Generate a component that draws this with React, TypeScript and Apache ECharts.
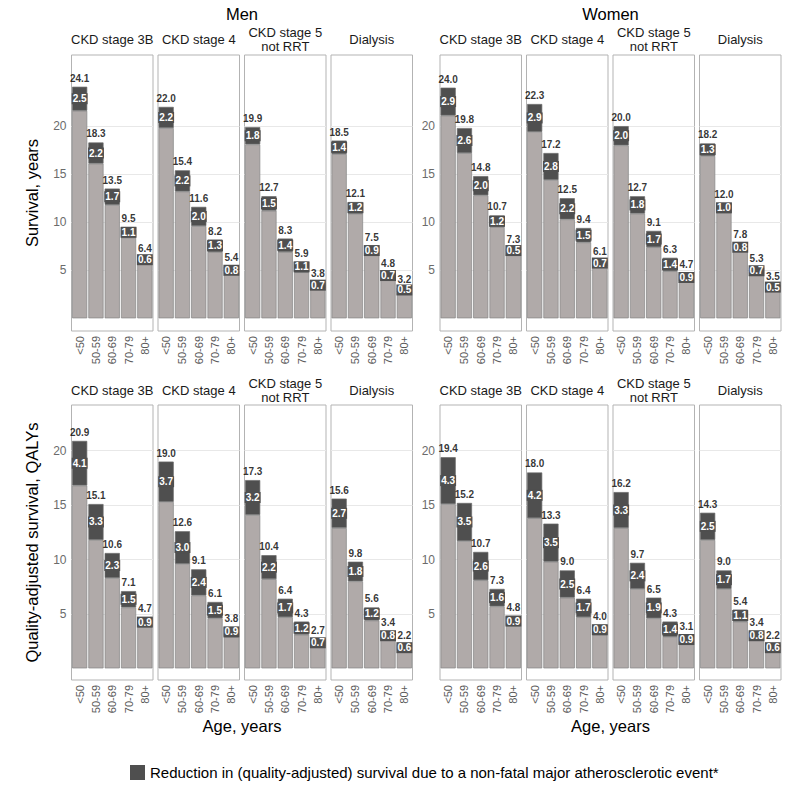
import React, { useEffect, useRef } from 'react';
import * as echarts from 'echarts';

const AGES = ['<50', '50-59', '60-69', '70-79', '80+'];
const STAGES = ['CKD stage 3B', 'CKD stage 4', 'CKD stage 5\nnot RRT', 'Dialysis'];
const SEXES = ['Men', 'Women'];
const ROW_TITLES = ['Survival, years', 'Quality-adjusted survival, QALYs'];
const Y_TICKS = [5, 10, 15, 20];
const LEGEND_LABEL = 'Reduction in (quality-adjusted) survival due to a non-fatal major atherosclerotic event*';

// Survival, years — totals and reductions per stage (3B, 4, 5 not RRT, Dialysis)
const MEN_SURV_TOTAL = [
  [24.1, 18.3, 13.5, 9.5, 6.4],
  [22.0, 15.4, 11.6, 8.2, 5.4],
  [19.9, 12.7, 8.3, 5.9, 3.8],
  [18.5, 12.1, 7.5, 4.8, 3.2],
];
const MEN_SURV_REDUCTION = [
  [2.5, 2.2, 1.7, 1.1, 0.6],
  [2.2, 2.2, 2.0, 1.3, 0.8],
  [1.8, 1.5, 1.4, 1.1, 0.7],
  [1.4, 1.2, 0.9, 0.7, 0.5],
];
const WOMEN_SURV_TOTAL = [
  [24.0, 19.8, 14.8, 10.7, 7.3],
  [22.3, 17.2, 12.5, 9.4, 6.1],
  [20.0, 12.7, 9.1, 6.3, 4.7],
  [18.2, 12.0, 7.8, 5.3, 3.5],
];
const WOMEN_SURV_REDUCTION = [
  [2.9, 2.6, 2.0, 1.2, 0.5],
  [2.9, 2.8, 2.2, 1.5, 0.7],
  [2.0, 1.8, 1.7, 1.4, 0.9],
  [1.3, 1.0, 0.8, 0.7, 0.5],
];
// Quality-adjusted survival, QALYs
const MEN_QALY_TOTAL = [
  [20.9, 15.1, 10.6, 7.1, 4.7],
  [19.0, 12.6, 9.1, 6.1, 3.8],
  [17.3, 10.4, 6.4, 4.3, 2.7],
  [15.6, 9.8, 5.6, 3.4, 2.2],
];
const MEN_QALY_REDUCTION = [
  [4.1, 3.3, 2.3, 1.5, 0.9],
  [3.7, 3.0, 2.4, 1.5, 0.9],
  [3.2, 2.2, 1.7, 1.2, 0.7],
  [2.7, 1.8, 1.2, 0.8, 0.6],
];
const WOMEN_QALY_TOTAL = [
  [19.4, 15.2, 10.7, 7.3, 4.8],
  [18.0, 13.3, 9.0, 6.4, 4.0],
  [16.2, 9.7, 6.5, 4.3, 3.1],
  [14.3, 9.0, 5.4, 3.4, 2.2],
];
const WOMEN_QALY_REDUCTION = [
  [4.3, 3.5, 2.6, 1.6, 0.9],
  [4.2, 3.5, 2.5, 1.7, 0.9],
  [3.3, 2.4, 1.9, 1.4, 0.9],
  [2.5, 1.7, 1.1, 0.8, 0.6],
];

const TOTALS = [
  [MEN_SURV_TOTAL, WOMEN_SURV_TOTAL],
  [MEN_QALY_TOTAL, WOMEN_QALY_TOTAL],
];
const REDUCTIONS = [
  [MEN_SURV_REDUCTION, WOMEN_SURV_REDUCTION],
  [MEN_QALY_REDUCTION, WOMEN_QALY_REDUCTION],
];

const FONT = 'Liberation Sans, Arial, Helvetica, sans-serif';
const LIGHT = '#b0aaa9';
const DARK = '#4f4f4f';

// layout
const PANEL_W = 81.5;
const PANEL_PITCH = 86.5;
const SEX_OFFSET = 368.5;
const LEFT0 = 71.5;
const ROW_TOP = [55, 405];
const ROW_H = [276, 275];
const ROW_MIN = [-1.32, -1.07];
const ROW_MAX = [27.4, 24.2];
const STRIP_Y = [39.5, 390];

export default function App() {
  const ref = useRef<HTMLDivElement>(null);

  useEffect(() => {
    const chart = echarts.init(ref.current!, null, { renderer: 'svg' });
    const grids: any[] = [];
    const xAxes: any[] = [];
    const yAxes: any[] = [];
    const series: any[] = [];
    const graphics: any[] = [];

    for (let r = 0; r < 2; r++) {
      for (let s = 0; s < 2; s++) {
        for (let p = 0; p < 4; p++) {
          const idx = r * 8 + s * 4 + p;
          const left = LEFT0 + s * SEX_OFFSET + p * PANEL_PITCH;
          grids.push({
            left,
            top: ROW_TOP[r],
            width: PANEL_W,
            height: ROW_H[r],
            show: true,
            borderColor: '#b3b3b3',
            borderWidth: 1,
            backgroundColor: '#ffffff',
            containLabel: false,
          });
          xAxes.push({
            type: 'category',
            gridIndex: idx,
            data: AGES,
            boundaryGap: true,
            axisLine: { show: false },
            axisTick: { show: false },
            splitLine: { show: false },
            axisLabel: {
              rotate: 90,
              interval: 0,
              margin: 5,
              fontSize: 11,
              color: '#5a5a5a',
              fontFamily: FONT,
            },
          });
          yAxes.push({
            type: 'value',
            gridIndex: idx,
            min: ROW_MIN[r],
            max: ROW_MAX[r],
            axisLine: { show: false },
            axisTick: { show: false, customValues: Y_TICKS },
            splitLine: { show: true, lineStyle: { color: '#e8e8e8', width: 1 } },
            axisLabel: {
              show: p === 0,
              customValues: Y_TICKS,
              margin: 5,
              fontSize: 12,
              color: '#6b6b6b',
              fontFamily: FONT,
            },
          });
          const totals = TOTALS[r][s][p];
          const reds = REDUCTIONS[r][s][p];
          const base = totals.map((t, j) => +(t - reds[j]).toFixed(2));
          series.push({
            type: 'bar',
            name: 'Survival without event',
            xAxisIndex: idx,
            yAxisIndex: idx,
            stack: 'st' + idx,
            data: base,
            barCategoryGap: '7%',
            itemStyle: { color: LIGHT, borderColor: '#858585', borderWidth: 0.7 },
            z: 2,
          });
          series.push({
            type: 'bar',
            name: LEGEND_LABEL,
            xAxisIndex: idx,
            yAxisIndex: idx,
            stack: 'st' + idx,
            data: reds,
            barCategoryGap: '7%',
            itemStyle: { color: DARK, borderColor: '#6a6a6a', borderWidth: 0.7 },
            label: {
              show: true,
              position: 'inside',
              formatter: (pr: any) => Number(pr.value).toFixed(1),
              color: '#ffffff',
              fontSize: 10,
              fontWeight: 'bold',
              fontFamily: FONT,
              backgroundColor: DARK,
              padding: [1, 1, 0, 1],
            },
            z: 3,
          });
          series.push({
            type: 'scatter',
            name: 'Total',
            xAxisIndex: idx,
            yAxisIndex: idx,
            data: totals,
            symbolSize: 1,
            itemStyle: { color: 'rgba(0,0,0,0)' },
            label: {
              show: true,
              position: 'top',
              distance: 3,
              formatter: (pr: any) => Number(pr.value).toFixed(1),
              color: '#000000',
              fontSize: 10,
              fontWeight: 'bold',
              fontFamily: FONT,
            },
            z: 4,
          });
          graphics.push({
            type: 'text',
            x: left + PANEL_W / 2,
            y: STRIP_Y[r],
            style: {
              text: STAGES[p],
              fontSize: 13,
              lineHeight: 14,
              fontFamily: FONT,
              fill: '#1a1a1a',
              align: 'center',
              verticalAlign: 'middle',
            },
          });
        }
      }
    }

    // sex titles
    SEXES.forEach((sx, s) => {
      const cx = LEFT0 + s * SEX_OFFSET + (3 * PANEL_PITCH + PANEL_W) / 2;
      graphics.push({
        type: 'text',
        x: cx,
        y: 14,
        style: { text: sx, fontSize: 16.5, fontFamily: FONT, fill: '#000', align: 'center', verticalAlign: 'middle' },
      });
      graphics.push({
        type: 'text',
        x: cx,
        y: 726,
        style: { text: 'Age, years', fontSize: 16.5, fontFamily: FONT, fill: '#000', align: 'center', verticalAlign: 'middle' },
      });
    });
    // row titles
    ROW_TITLES.forEach((t, r) => {
      graphics.push({
        type: 'text',
        x: 32,
        y: ROW_TOP[r] + ROW_H[r] / 2,
        rotation: Math.PI / 2,
        style: { text: t, fontSize: 16.5, fontFamily: FONT, fill: '#000', align: 'center', verticalAlign: 'middle' },
      });
    });

    chart.setOption({
      animation: false,
      backgroundColor: '#ffffff',
      textStyle: { fontFamily: FONT },
      grid: grids,
      xAxis: xAxes,
      yAxis: yAxes,
      series,
      legend: {
        show: true,
        left: 125,
        top: 760,
        itemWidth: 15,
        itemHeight: 15,
        selectedMode: false,
        data: [{ name: LEGEND_LABEL, icon: 'rect', itemStyle: { color: DARK, borderWidth: 0 } }],
        textStyle: { fontSize: 15, color: '#000', fontFamily: FONT },
      },
      graphic: graphics,
    });

    return () => chart.dispose();
  }, []);

  return (
    <div
      ref={ref}
      style={{ position: 'absolute', left: 0, top: 0, width: 787, height: 787 }}
    />
  );
}
